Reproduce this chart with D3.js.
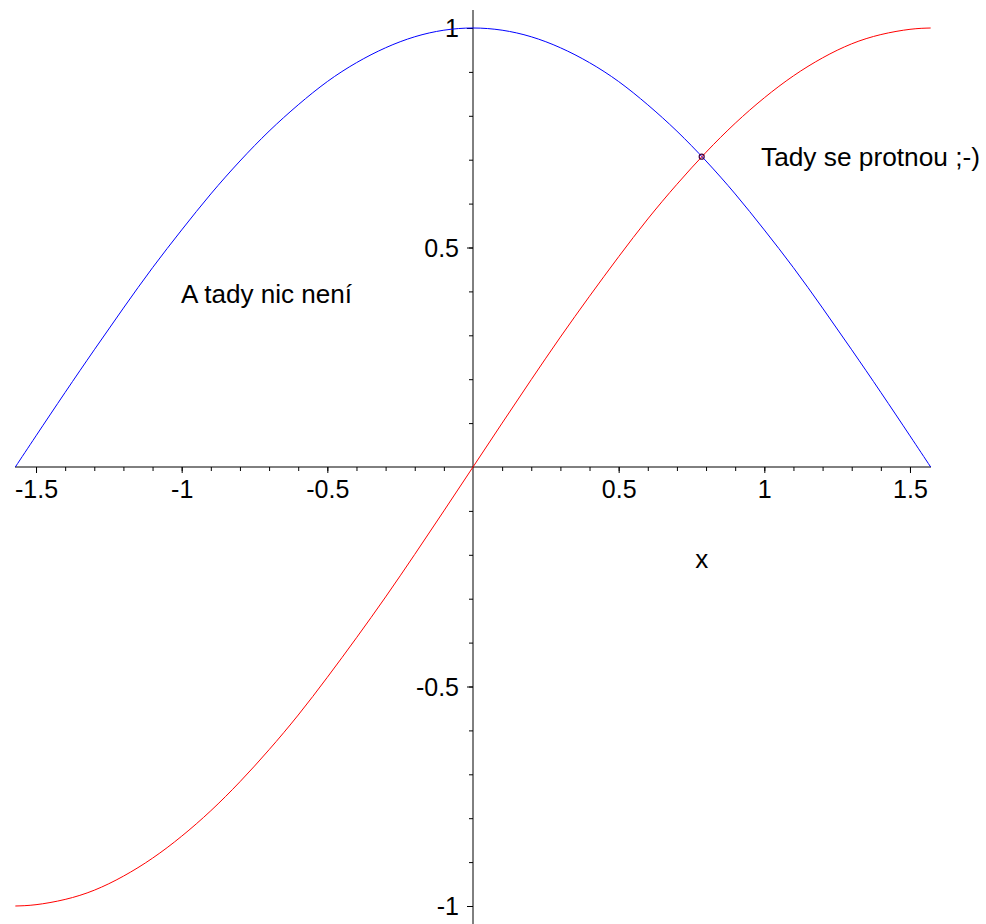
<!DOCTYPE html>
<html>
<head>
<meta charset="utf-8">
<script src="https://cdn.jsdelivr.net/npm/d3@7"></script>
<style>
  html, body { margin: 0; padding: 0; background: #fff; }
  svg { display: block; }
  text { font-family: Arial, "Liberation Sans", sans-serif; fill: #000; }
</style>
</head>
<body>
<svg id="chart" width="986" height="924"></svg>
<script>
// Sample abscissae shared by both curves
const xs = [-1.571, -1.5, -1.4, -1.3, -1.2, -1.1, -1.0, -0.9, -0.8, -0.7, -0.6, -0.5, -0.4, -0.3, -0.2, -0.1,
            0, 0.1, 0.2, 0.3, 0.4, 0.5, 0.6, 0.7, 0.8, 0.9, 1.0, 1.1, 1.2, 1.3, 1.4, 1.5, 1.571];
// Red curve
const sinVals = [-1.000, -0.997, -0.985, -0.964, -0.932, -0.891, -0.841, -0.783, -0.717, -0.644, -0.565, -0.479, -0.389, -0.296, -0.199, -0.100,
                 0.000, 0.100, 0.199, 0.296, 0.389, 0.479, 0.565, 0.644, 0.717, 0.783, 0.841, 0.891, 0.932, 0.964, 0.985, 0.997, 1.000];
// Blue curve
const cosVals = [0.000, 0.071, 0.170, 0.267, 0.362, 0.454, 0.540, 0.622, 0.697, 0.765, 0.825, 0.878, 0.921, 0.955, 0.980, 0.995,
                 1.000, 0.995, 0.980, 0.955, 0.921, 0.878, 0.825, 0.765, 0.697, 0.622, 0.540, 0.454, 0.362, 0.267, 0.170, 0.071, 0.000];
// Where the two curves meet
const crossPoint = [0.785, 0.707];

// Axis ticks
const xMajorTicks = [-1.5, -1, -0.5, 0.5, 1, 1.5];
const xTickLabels = ["-1.5", "-1", "-0.5", "0.5", "1", "1.5"];
const xMinorTicks = [-1.5, -1.4, -1.3, -1.2, -1.1, -1.0, -0.9, -0.8, -0.7, -0.6, -0.5, -0.4, -0.3, -0.2, -0.1,
                     0.1, 0.2, 0.3, 0.4, 0.5, 0.6, 0.7, 0.8, 0.9, 1.0, 1.1, 1.2, 1.3, 1.4, 1.5];
const yMajorTicks = [1, 0.5, -0.5, -1];
const yTickLabels = ["1", "0.5", "-0.5", "-1"];
const yMinorTicks = [1, 0.9, 0.8, 0.7, 0.6, 0.5, 0.4, 0.3, 0.2, 0.1,
                     -0.1, -0.2, -0.3, -0.4, -0.5, -0.6, -0.7, -0.8, -0.9, -1];

const svg = d3.select("#chart");

const x = d3.scaleLinear().domain([-1.5708, 1.5708]).range([15.4, 930.6]);
const y = d3.scaleLinear().domain([-1, 1]).range([906, 28]);

// Axes through the origin
const x0 = x(0), y0 = y(0);

const xAxisMinor = d3.axisBottom(x).tickValues(xMinorTicks).tickSize(4).tickFormat("");
const xAxisMajor = d3.axisBottom(x).tickValues(xMajorTicks).tickSize(6)
  .tickFormat((d, i) => xTickLabels[i]);
const yAxisMinor = d3.axisLeft(y).tickValues(yMinorTicks).tickSize(4).tickFormat("");
const yAxisMajor = d3.axisLeft(y).tickValues(yMajorTicks).tickSize(6)
  .tickFormat((d, i) => yTickLabels[i]);

function styleAxis(g) {
  g.select(".domain").remove();
  g.selectAll(".tick line").attr("stroke", "#000").attr("stroke-width", 1);
  g.selectAll(".tick text").style("font-size", "25px").attr("fill", "#000");
}

svg.append("g").attr("transform", `translate(0,${y0})`).call(xAxisMinor).call(styleAxis);
svg.append("g").attr("transform", `translate(0,${y0})`).call(xAxisMajor).call(styleAxis)
  .call(g => g.selectAll(".tick text").attr("y", 0).attr("dy", "30.5px"));
svg.append("g").attr("transform", `translate(${x0},0)`).call(yAxisMinor).call(styleAxis);
svg.append("g").attr("transform", `translate(${x0},0)`).call(yAxisMajor).call(styleAxis)
  .call(g => g.selectAll(".tick text").attr("x", -14).attr("dy", "0.35em"));

// Axis lines
svg.append("line").attr("x1", 15).attr("x2", 931).attr("y1", y0).attr("y2", y0)
  .attr("stroke", "#000").attr("stroke-width", 1);
svg.append("line").attr("x1", x0).attr("x2", x0).attr("y1", 10).attr("y2", 924)
  .attr("stroke", "#000").attr("stroke-width", 1);

// Curves
const line = d3.line().x(d => x(d[0])).y(d => y(d[1])).curve(d3.curveNatural);
svg.append("path").datum(xs.map((v, i) => [v, cosVals[i]]))
  .attr("d", line).attr("fill", "none").attr("stroke", "#0000ff").attr("stroke-width", 1);
svg.append("path").datum(xs.map((v, i) => [v, sinVals[i]]))
  .attr("d", line).attr("fill", "none").attr("stroke", "#ff0000").attr("stroke-width", 1);

// Marker at the crossing
svg.append("circle").attr("cx", x(crossPoint[0])).attr("cy", y(crossPoint[1])).attr("r", 2.5)
  .attr("fill", "none").attr("stroke", "#400040").attr("stroke-width", 1.2);

// Labels
svg.append("text").attr("x", x(0.785)).attr("y", 568).attr("text-anchor", "middle")
  .style("font-size", "26px").text("x");
svg.append("text").attr("x", 761).attr("y", 166).style("font-size", "25px")
  .attr("textLength", 219).attr("lengthAdjust", "spacingAndGlyphs").text("Tady se protnou ;-)");
svg.append("text").attr("x", 181).attr("y", 303).style("font-size", "25px")
  .attr("textLength", 171).attr("lengthAdjust", "spacingAndGlyphs").text("A tady nic není");
</script>
</body>
</html>
